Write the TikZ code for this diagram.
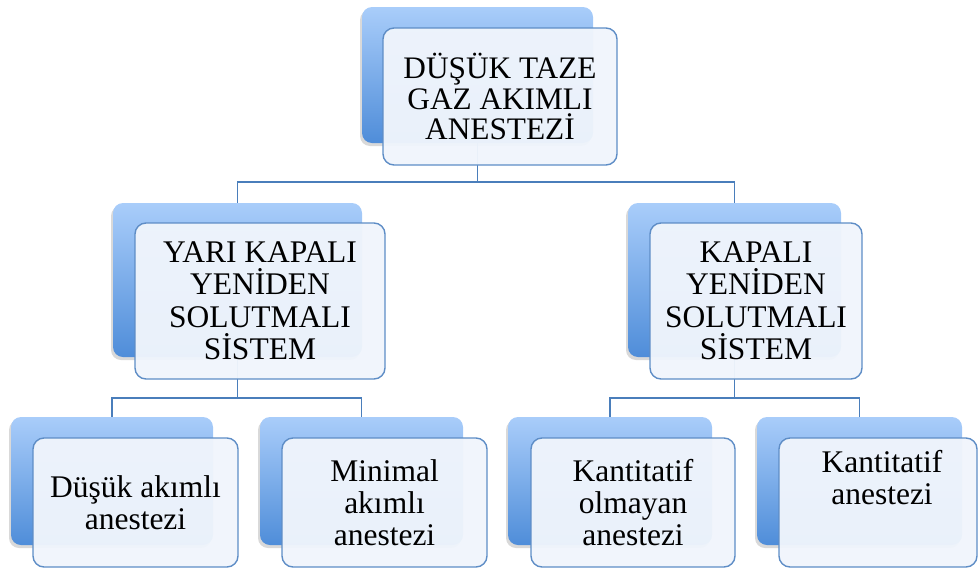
\documentclass[tikz,border=0pt]{standalone}
\usepackage{fontspec}
\setmainfont{Liberation Serif}
\newfontfamily\tnr{Liberation Serif}
\usetikzlibrary{shadows}
\definecolor{backtop}{HTML}{A9CDFA}
\definecolor{backbot}{HTML}{4F8DD9}
\definecolor{frontfill}{HTML}{F0F5FC}
\definecolor{frontline}{HTML}{5E8DC6}
\definecolor{connline}{HTML}{4A7EBB}
\tikzset{
  backbox/.style={rectangle, rounded corners=10pt, top color=backtop, bottom color=backbot,
    draw=none, drop shadow={shadow xshift=-2pt, shadow yshift=-3pt, opacity=0.3}},
  frontbox/.style={rectangle, rounded corners=11pt, fill=frontfill, fill opacity=0.96,
    text opacity=1, draw=frontline, line width=1.4pt, align=center, text=black},
  conn/.style={draw=connline, line width=1.8pt},
  bigtxt/.style={font=\tnr\fontsize{31.3}{30.5}\selectfont},
  midtxt/.style={font=\tnr\fontsize{31.5}{32.5}\selectfont},
  smalltxt/.style={font=\tnr\fontsize{31.5}{32}\selectfont},
  plaintxt/.style={align=center, text=black, inner sep=0pt}
}
\begin{document}
\begin{tikzpicture}[x=1pt,y=-1pt]
\useasboundingbox (0,0) rectangle (978,568);
\clip (0,0) rectangle (978,568);
% back boxes
\node[backbox, minimum width=231pt, minimum height=136pt] (b0) at (477.5,75) {};
\node[backbox, minimum width=249pt, minimum height=154pt] (b1) at (237.5,280) {};
\node[backbox, minimum width=213pt, minimum height=154pt] (b2) at (734.5,280) {};
\node[backbox, minimum width=202pt, minimum height=128pt] (b11) at (112,481) {};
\node[backbox, minimum width=203pt, minimum height=128pt] (b12) at (361.5,481) {};
\node[backbox, minimum width=204pt, minimum height=128pt] (b21) at (610,481) {};
\node[backbox, minimum width=205pt, minimum height=128pt] (b22) at (859.5,481) {};
% connectors
\coordinate (j0) at (477.5,182);
\coordinate (j1) at (237.5,398);
\coordinate (j2) at (734.5,398);
\draw[conn] (b0.south) -- (j0) -| (b1.north);
\draw[conn] (j0) -| (b2.north);
\draw[conn] (b1.south) -- (j1) -| (b11.north);
\draw[conn] (j1) -| (b12.north);
\draw[conn] (b2.south) -- (j2) -| (b21.north);
\draw[conn] (j2) -| (b22.north);
% front boxes
\node[frontbox, bigtxt, minimum width=234pt, minimum height=137pt] (f0) at (500,96.5)
  {DÜŞÜK TAZE\\GAZ AKIMLI\\ANESTEZİ};
\node[frontbox, midtxt, minimum width=250pt, minimum height=156pt] (f1) at (260,301)
  {YARI KAPALI\\YENİDEN\\SOLUTMALI\\SİSTEM};
\node[frontbox, midtxt, minimum width=212pt, minimum height=156pt] (f2) at (756,301)
  {KAPALI\\YENİDEN\\SOLUTMALI\\SİSTEM};
\node[frontbox, smalltxt, minimum width=205pt, minimum height=129pt] (f11) at (135.5,502.5)
  {Düşük akımlı\\anestezi};
\node[frontbox, smalltxt, minimum width=205pt, minimum height=129pt] (f12) at (384.5,502.5)
  {Minimal\\akımlı\\anestezi};
\node[frontbox, smalltxt, minimum width=204pt, minimum height=129pt] (f21) at (633,502.5)
  {Kantitatif\\olmayan\\anestezi};
\node[frontbox, minimum width=198pt, minimum height=129pt] (f22) at (878,502.5) {};
\node[plaintxt, smalltxt] (f22t) at (882,478) {Kantitatif\\anestezi};
\end{tikzpicture}
\end{document}
